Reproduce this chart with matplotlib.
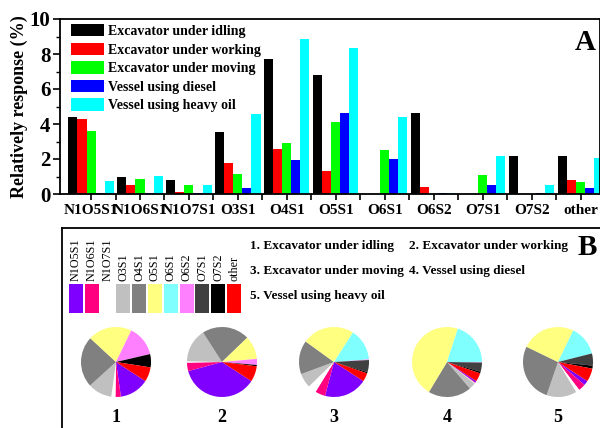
import numpy as np
import matplotlib.pyplot as plt
from matplotlib.patches import Rectangle

plt.rcParams["font.family"] = ["Liberation Serif", "DejaVu Serif"]

# Panel A data: relative response (%) per compound class
categories = ["N1O5S1", "N1O6S1", "N1O7S1", "O3S1", "O4S1", "O5S1",
              "O6S1", "O6S2", "O7S1", "O7S2", "other"]
sources = ["Excavator under idling", "Excavator under working",
           "Excavator under moving", "Vessel using diesel",
           "Vessel using heavy oil"]
idling = [4.38, 0.95, 0.78, 3.56, 7.70, 6.80, 0.0, 4.65, 0.0, 2.15, 2.19]
working = [4.30, 0.50, 0.13, 1.77, 2.57, 1.30, 0.0, 0.42, 0.0, 0.0, 0.80]
moving = [3.58, 0.86, 0.53, 1.16, 2.91, 4.11, 2.50, 0.0, 1.10, 0.0, 0.69]
diesel = [0.06, 0.06, 0.06, 0.34, 1.96, 4.63, 2.00, 0.05, 0.53, 0.05, 0.34]
heavy_oil = [0.76, 1.05, 0.50, 4.60, 8.86, 8.34, 4.40, 0.05, 2.15, 0.53, 2.04]
bar_colors = ["#000000", "#ff0000", "#00ff00", "#0000ff", "#00ffff"]

# Panel B data: composition shares (%) per source
pie_colors = ["#8000ff", "#ff0080", "#ffffff", "#c0c0c0", "#808080", "#ffff80",
              "#80ffff", "#ff80ff", "#404040", "#000000", "#ff0000"]
pie1 = [13.6, 2.5, 1.9, 11.1, 23.6, 20.3, 0.0, 14.2, 0.0, 6.1, 6.7]
pie2 = [36.7, 3.9, 0.6, 15.6, 21.9, 10.8, 0.0, 2.8, 0.0, 0.6, 7.2]
pie3 = [20.0, 4.7, 3.9, 6.7, 15.6, 24.2, 14.7, 0.3, 5.6, 0.6, 3.9]
pie4 = [0.8, 0.3, 0.3, 3.1, 20.0, 46.4, 20.0, 0.3, 4.2, 0.8, 3.9]
pie5 = [2.2, 3.3, 1.7, 13.9, 26.9, 25.0, 13.9, 0.0, 5.6, 1.4, 6.1]
pie_labels = ["1", "2", "3", "4", "5"]

W, H = 600, 428
fig = plt.figure(figsize=(6, 4.28), dpi=100)

# ---------- panel A ----------
axA = fig.add_axes([60 / W, 1 - 194 / H, 540 / W, 175 / H])
x = np.arange(len(categories))
bw = 0.184
series = [idling, working, moving, diesel, heavy_oil]
for i, (vals, col, name) in enumerate(zip(series, bar_colors, sources)):
    axA.bar(x + (i - 2) * bw, vals, width=bw, color=col, label=name)

axA.set_xlim(-0.633, 10.39)
axA.set_ylim(0, 10)
axA.set_xticks(x)
axA.set_xticklabels(categories, fontsize=11, fontweight="bold")
axA.set_xticks(x[:-1] + 0.5, minor=True)
axA.set_yticks([0, 2, 4, 6, 8, 10])
axA.set_yticks([1, 3, 5, 7, 9], minor=True)
axA.tick_params(axis="y", labelsize=15, direction="out", length=5, width=1.2, pad=2)
axA.tick_params(axis="y", which="minor", direction="out", length=3, width=1)
axA.tick_params(axis="x", which="both", direction="out", length=4, width=1.2, pad=3)
for lab in axA.get_yticklabels():
    lab.set_fontweight("bold")
for sp in axA.spines.values():
    sp.set_linewidth(1.3)
axA.set_ylabel("Relatively response (%)", fontsize=13, fontweight="bold", labelpad=1)

leg = axA.legend(loc="upper left", bbox_to_anchor=(11 / 540, 1 - 5 / 175),
                 frameon=False, prop={"weight": "bold", "size": 10},
                 handlelength=2.4, handleheight=1.0, handletextpad=0.3,
                 labelspacing=0.33, borderpad=0, borderaxespad=0)
fig.text(585 / W, 1 - 42 / H, "A", fontsize=21, fontweight="bold",
         ha="center", va="center")

# ---------- panel B ----------
axB = fig.add_axes([62 / W, 0, 538 / W, 200 / H])
axB.set_xlim(62, 600)
axB.set_ylim(428, 228)
axB.set_xticks([])
axB.set_yticks([])
axB.spines["bottom"].set_visible(False)
axB.spines["right"].set_visible(False)
for sp in ("top", "left"):
    axB.spines[sp].set_linewidth(1.3)

# colour key: rotated names over swatches
for k, (name, col) in enumerate(zip(categories, pie_colors)):
    cx = 76 + k * 15.8
    axB.add_patch(Rectangle((cx - 7, 284), 14, 29, facecolor=col, edgecolor="none"))
    axB.text(cx, 281, name, rotation=90, ha="center", va="bottom", fontsize=8.7)

key_font = dict(fontsize=9.5, fontweight="bold", va="center", ha="left")
axB.text(250, 246, "1. Excavator under idling", **key_font)
axB.text(409, 246, "2. Excavator under working", **key_font)
axB.text(250, 271, "3. Excavator under moving", **key_font)
axB.text(409, 271, "4. Vessel using diesel", **key_font)
axB.text(250, 296, "5. Vessel using heavy oil", **key_font)
fig.text(587 / W, 1 - 248 / H, "B", fontsize=21, fontweight="bold",
         ha="center", va="center")

pies = [pie1, pie2, pie3, pie4, pie5]
pie_cx = [116, 222, 334, 447, 558]
pie_cy = 362
r = 35
for vals, cx, lab in zip(pies, pie_cx, pie_labels):
    axp = fig.add_axes([(cx - r) / W, 1 - (pie_cy + r) / H, 2 * r / W, 2 * r / H])
    axp.pie(vals, colors=pie_colors, startangle=-33, counterclock=False,
            wedgeprops=dict(linewidth=0))
    axp.set_xlim(-1, 1)
    axp.set_ylim(-1, 1)
    axp.set_aspect("equal")
    axp.axis("off")
    fig.text(cx / W, 1 - 418 / H, lab, fontsize=13, fontweight="bold",
             ha="center", va="center")

fig.savefig("out.png", dpi=100)
